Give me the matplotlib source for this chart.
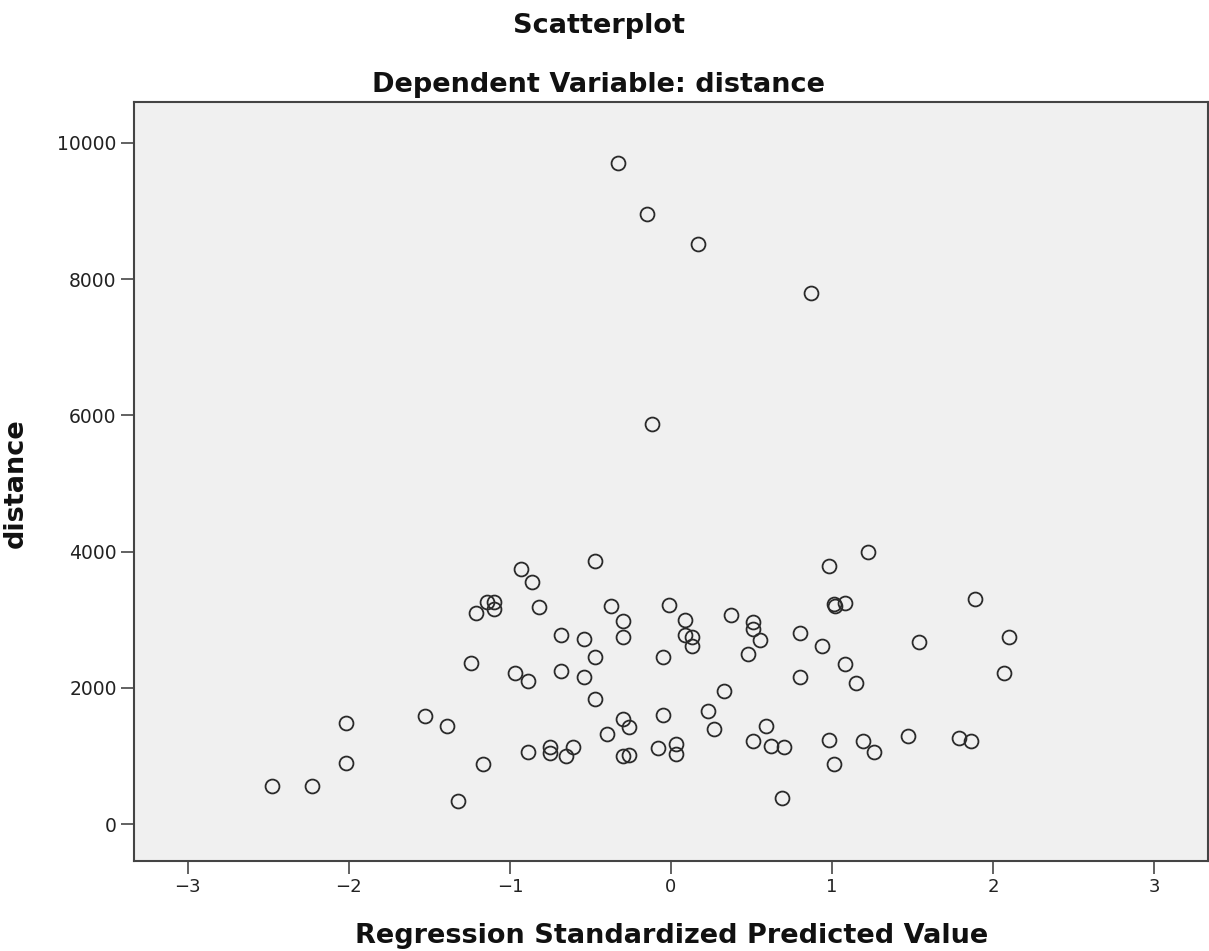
import matplotlib.pyplot as plt

# standardized predicted values (x) and observed distance (y)
pred_value = [-0.33, -0.15, 0.17, 0.87, -0.12,
              -2.48, -2.23, -2.02, -2.02, -1.53, -1.39, -1.17, -1.32, -1.24, -1.21,
              -1.14, -1.10, -1.10, -0.93, -0.47, -0.86, -0.82, -0.37, -0.01, 0.09,
              -0.30, 0.37, -0.68, -0.54, -0.30, 0.09, 0.13, 0.13, -0.47, -0.05,
              -0.97, -0.89, -0.68, -0.54, -0.47, 0.33, -0.30, -0.26, -0.40, -0.05,
              0.23, 0.27, -0.89, -0.75, -0.75, -0.61, -0.65, -0.30, -0.26, -0.08,
              0.03, 0.03, 1.22, 0.98, 1.01, 1.02, 1.08, 0.51, 0.51, 0.55,
              0.80, 0.94, 0.48, 1.54, 1.08, 0.80, 1.15, 0.59, 0.51, 0.62,
              0.70, 0.98, 1.19, 1.26, 1.01, 0.69, 1.47, 1.79, 1.86, 1.89,
              2.10, 2.07]
distance = [9700, 8960, 8520, 7790, 5880,
            560, 560, 1490, 900, 1590, 1440, 875, 340, 2360, 3100,
            3255, 3255, 3150, 3750, 3860, 3555, 3180, 3200, 3220, 3000,
            2980, 3075, 2770, 2720, 2740, 2770, 2745, 2610, 2450, 2445,
            2210, 2100, 2240, 2155, 1830, 1955, 1535, 1430, 1315, 1595,
            1655, 1395, 1050, 1135, 1040, 1125, 1000, 1000, 1010, 1115,
            1170, 1025, 3995, 3790, 3225, 3205, 3250, 2965, 2870, 2700,
            2810, 2615, 2490, 2670, 2350, 2160, 2070, 1435, 1215, 1140,
            1135, 1230, 1215, 1055, 875, 375, 1295, 1270, 1215, 3310,
            2745, 2220]

x_ticks = [-3, -2, -1, 0, 1, 2, 3]
y_ticks = [0, 2000, 4000, 6000, 8000, 10000]

W, H = 1209, 951
fig = plt.figure(figsize=(W / 100, H / 100), dpi=100)
ax = fig.add_axes([134 / W, 1 - 861 / H, (1208 - 134) / W, (861 - 102) / H])
ax.set_facecolor('#f0f0f0')

ax.plot(pred_value, distance, linestyle='none', marker='o', markersize=10,
        markerfacecolor='none', markeredgecolor='#2a2a2a', markeredgewidth=1.3)

ax.set_xlim(-3.334, 3.334)
ax.set_ylim(-543, 10600)
ax.set_xticks(x_ticks)
ax.set_yticks(y_ticks)
ax.set_xticklabels([str(t).replace('-', '\u2212') for t in x_ticks], fontsize=13,
                   family=['Liberation Sans Narrow', 'DejaVu Sans'], color='#222222')
ax.set_yticklabels([str(t) for t in y_ticks], fontsize=13.5,
                   family='DejaVu Sans', color='#222222')
ax.tick_params(direction='out', length=9.5, width=1.3, color='#555555', pad=3)

for side in ax.spines.values():
    side.set_color('#444444')
    side.set_linewidth(1.5)

bold = dict(family='DejaVu Sans', fontweight='bold', color='#111111', fontsize=19.5)
fig.text(599 / W, 1 - 33 / H, 'Scatterplot', ha='center', va='baseline', **bold)
fig.text(599 / W, 1 - 92 / H, 'Dependent Variable: distance', ha='center',
         va='baseline', **bold)
fig.text(672 / W, 1 - 943 / H, 'Regression Standardized Predicted Value',
         ha='center', va='baseline', **bold)
fig.text(16 / W, 1 - 483 / H, 'distance', rotation=90, ha='center', va='center', **bold)

fig.savefig('out.png', dpi=100)
